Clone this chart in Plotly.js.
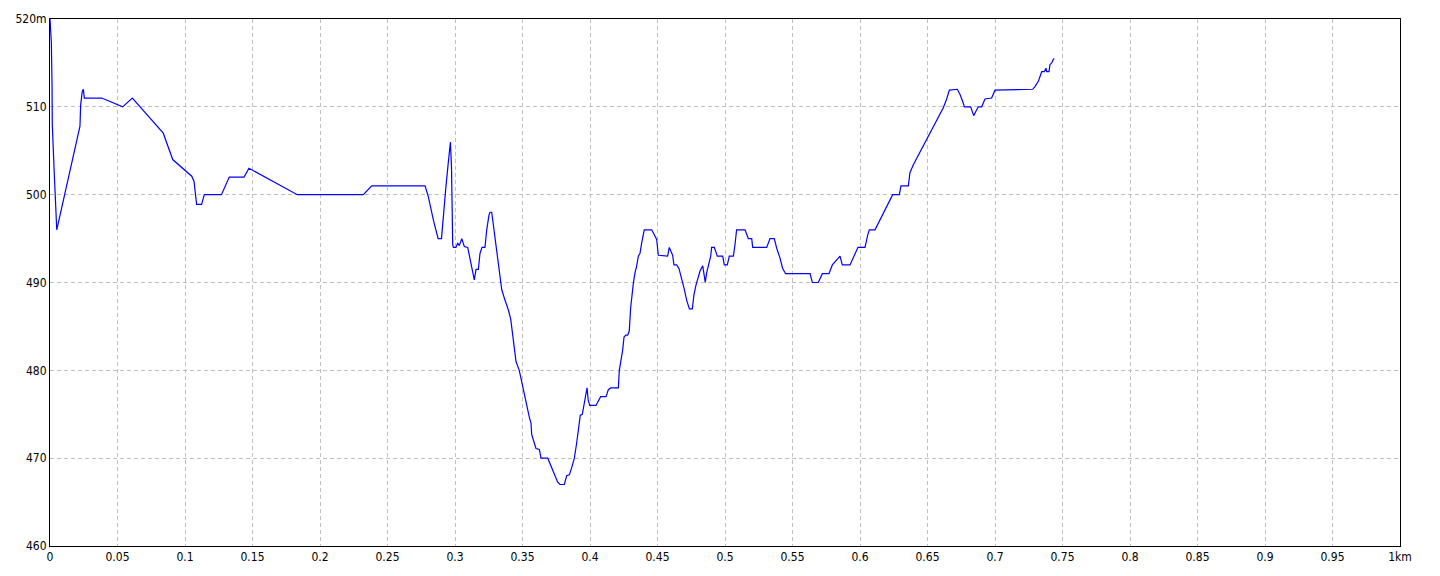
<!DOCTYPE html>
<html>
<head>
<meta charset="utf-8">
<script src="https://cdn.plot.ly/plotly-3.0.1.min.js"></script>
<style>
html,body{margin:0;padding:0;background:#fff;}
#chart{width:1440px;height:576px;}
</style>
</head>
<body>
<div id="chart"></div>
<script>
// distance along route (km)
const distKm = [
0,0.001,0.0015,0.0017,0.003,0.004,0.005,0.0222,0.0227,0.0239,0.0247,0.0254,0.0383,0.0538,0.061,0.0839,0.0909,0.105,0.1067,0.1086,0.1123,0.1143,0.127,0.1328,0.1437,0.1474,0.1778,0.1832,0.2321,0.2383,0.2778,0.2802,0.284,0.2864,0.2875,0.290,0.2914,0.2931,0.2946,0.2958,0.2966,0.2974,0.2978,0.2983,0.2988,0.3007,0.302,0.3032,0.305,0.3069,0.3094,0.3111,0.3131,0.3143,0.3156,0.3173,0.3185,0.32,0.3222,0.3235,0.3252,0.3259,0.3272,0.3289,0.3309,0.3333,0.3346,0.337,0.3395,0.3413,0.3425,0.344,0.3452,0.3476,0.3501,0.3513,0.3531,0.355,0.3563,0.3568,0.358,0.36,0.3625,0.3637,0.3687,0.3709,0.3728,0.3746,0.376,0.3778,0.381,0.3827,0.3847,0.3864,0.3884,0.3901,0.3916,0.3928,0.3943,0.3958,0.397,0.3978,0.3987,0.3998,0.4044,0.4062,0.4079,0.4119,0.4136,0.4153,0.421,0.4217,0.4232,0.4242,0.4252,0.4265,0.4279,0.4291,0.4301,0.4309,0.4321,0.4333,0.4346,0.4358,0.437,0.4383,0.4395,0.4402,0.4457,0.4481,0.4494,0.4506,0.4575,0.4587,0.46,0.4612,0.4622,0.4642,0.4659,0.4679,0.4699,0.4716,0.4736,0.4758,0.477,0.4785,0.4802,0.4815,0.4835,0.4844,0.4854,0.4864,0.4879,0.4894,0.4901,0.4921,0.4943,0.4983,0.4995,0.5017,0.5032,0.5062,0.5074,0.5086,0.5148,0.516,0.5173,0.5198,0.5205,0.5309,0.5333,0.5365,0.5383,0.5407,0.5427,0.5449,0.563,0.5647,0.5691,0.5721,0.577,0.5795,0.5827,0.5852,0.5869,0.5926,0.5985,0.6037,0.6057,0.6069,0.6111,0.6242,0.6291,0.6304,0.6358,0.637,0.6395,0.6617,0.6642,0.6662,0.6721,0.6741,0.6761,0.6773,0.682,0.6832,0.6842,0.6859,0.6876,0.6901,0.6926,0.6975,0.7,0.7279,0.7296,0.7321,0.7333,0.7346,0.7365,0.7378,0.7383,0.74,0.7407,0.742,0.7432,0.7439
];
// elevation (m)
const elevM = [
520,517.3,512.5,508,503,498.3,496,507.8,510.2,511.75,512,511,511,510,511,507,504,502.1,501.5,498.9,498.9,500,500,502,502,503,500.5,500,500,501,501,499.8,497.1,495.4,495,495,497.9,500.6,503,505.3,506,503.2,497.7,494.3,494,494,494.5,494.2,495,494.1,494,492.6,490.9,490.3,491.5,491.5,493.3,494,494,496,497.7,498,498,496,493.3,491.1,489.2,488,486.9,485.8,484.2,482.3,481,480,478.2,477,475.9,474.7,474,472.7,472.1,471.1,471,470,470,469.2,468.5,467.7,467.3,467,467,468,468.1,468.9,470,471.7,473.2,474.9,475,476.3,477.6,478,476.6,476,476,476.6,477,477,477.8,478,478,480,481.3,482.3,483.8,484,484,484.5,487.1,488.6,489.9,491.1,491.9,493,493.3,494.5,495.6,496,496,495.2,494.9,493.1,493,494,493.5,493.1,492,492,491.6,490.5,489.2,488,487,487,488.6,489.7,490.7,491.3,491.9,491.1,490,491.1,492,493,494,494,493,493,492,492,493,493,494.3,496,496,495.4,495,495,494,494,495,495,493.9,492.8,491.6,491,491,490,490,491,491,492,492.6,493,492,492,494,494,495.4,496,496,500,500,501,501,502.5,503.4,509.9,510.9,511.9,512,511.4,510.6,510,510,509.5,509,509.5,510,510,510.9,511,511.9,512,512.3,512.9,513.5,514,514,514.4,514,514,514.8,515,515.4,515.5
];
const xTickVals = [0,0.05,0.1,0.15,0.2,0.25,0.3,0.35,0.4,0.45,0.5,0.55,0.6,0.65,0.7,0.75,0.8,0.85,0.9,0.95,1];
const xTickText = ["0","0.05","0.1","0.15","0.2","0.25","0.3","0.35","0.4","0.45","0.5","0.55","0.6","0.65","0.7","0.75","0.8","0.85","0.9","0.95","1km"];
const yTickVals = [460,470,480,490,500,510,520];
const yTickText = ["460","470","480","490","500","510","520m"];

const tickFont = {family: '"Liberation Sans Narrow", "DejaVu Sans Condensed", "Liberation Sans", sans-serif', size: 12, color: '#000'};

Plotly.newPlot('chart', [{
  x: distKm, y: elevM, type: 'scatter', mode: 'lines',
  line: {color: '#0000ff', width: 1.2}, hoverinfo: 'none'
}], {
  width: 1440, height: 576,
  margin: {l: 50, r: 40, t: 19, b: 30, pad: 0},
  paper_bgcolor: '#fff', plot_bgcolor: '#fff',
  showlegend: false,
  xaxis: {
    range: [0, 1], tickvals: xTickVals, ticktext: xTickText,
    showgrid: true, gridcolor: '#c0c0c0', griddash: '4px,3px', gridwidth: 1,
    zeroline: false, showline: true, linecolor: '#000', linewidth: 1, mirror: true,
    ticks: '', ticklen: 0, tickfont: tickFont, fixedrange: true
  },
  yaxis: {
    range: [460, 520], tickvals: yTickVals, ticktext: yTickText,
    showgrid: true, gridcolor: '#c0c0c0', griddash: '4px,3px', gridwidth: 1,
    zeroline: false, showline: true, linecolor: '#000', linewidth: 1, mirror: true,
    ticks: '', ticklen: 0, tickfont: tickFont, fixedrange: true
  }
}, {displayModeBar: false, staticPlot: true});
</script>
</body>
</html>
